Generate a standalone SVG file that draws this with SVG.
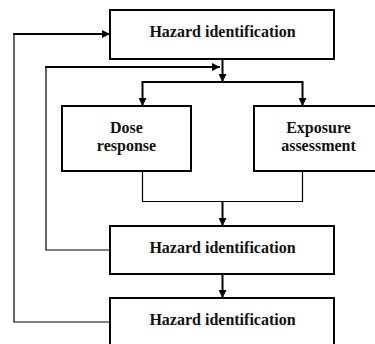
<svg xmlns="http://www.w3.org/2000/svg" width="375" height="344" viewBox="0 0 375 344">
  <defs>
    <marker id="arrow" markerUnits="userSpaceOnUse" markerWidth="9" markerHeight="8" refX="8" refY="4" orient="auto">
      <path d="M0,0 L8,4 L0,8 z" fill="#000"/>
    </marker>
    <style>
      .box { fill: #fff; stroke: #000; stroke-width: 2; }
      .label { font-family: "Liberation Serif", "Times New Roman", serif; font-weight: bold; font-size: 16px; fill: #111; text-anchor: middle; }
      .thick { fill: none; stroke: #000; stroke-width: 2; }
      .thin { fill: none; stroke: #000; stroke-width: 1.2; }
      .arr { marker-end: url(#arrow); }
    </style>
  </defs>
  <rect width="375" height="344" fill="#fff"/>

  <g id="connectors">
    <!-- outer feedback loop from the last step back to the first -->
    <polyline class="thin" points="110,322 14,322 14,34"/>
    <line class="thick arr" x1="13" y1="34" x2="110" y2="34"/>
    <!-- inner feedback loop from the middle step -->
    <polyline class="thin" points="110,250 46,250 46,67"/>
    <line class="thick arr" x1="45" y1="67" x2="220" y2="67"/>
    <!-- split into the two assessments -->
    <line class="thick arr" x1="222.5" y1="59" x2="222.5" y2="82"/>
    <line class="thick" x1="141.5" y1="82" x2="303.5" y2="82"/>
    <line class="thick arr" x1="142.5" y1="82" x2="142.5" y2="106"/>
    <line class="thick arr" x1="302.5" y1="82" x2="302.5" y2="106"/>
    <!-- merge -->
    <polyline class="thin" points="142.5,171 142.5,201.5 302.5,201.5 302.5,171"/>
    <line class="thick arr" x1="222.5" y1="201.5" x2="222.5" y2="226"/>
    <line class="thick arr" x1="222.5" y1="274" x2="222.5" y2="298"/>
  </g>

  <g id="hazard-top">
    <rect class="box" x="110" y="10" width="224" height="49"/>
    <text class="label" x="222.5" y="37">Hazard identification</text>
  </g>

  <g id="dose-response">
    <rect class="box" x="62" y="106" width="129" height="65"/>
    <text class="label" x="126.5" y="132.5">Dose</text>
    <text class="label" x="126.5" y="150.5">response</text>
  </g>

  <g id="exposure-assessment">
    <rect class="box" x="254" y="106" width="129" height="65"/>
    <text class="label" x="318.5" y="132.5">Exposure</text>
    <text class="label" x="318.5" y="150.5">assessment</text>
  </g>

  <g id="hazard-middle">
    <rect class="box" x="110" y="226" width="224" height="48"/>
    <text class="label" x="222.5" y="253">Hazard identification</text>
  </g>

  <g id="hazard-bottom">
    <rect class="box" x="110" y="298" width="224" height="60"/>
    <text class="label" x="222.5" y="325">Hazard identification</text>
  </g>
</svg>
